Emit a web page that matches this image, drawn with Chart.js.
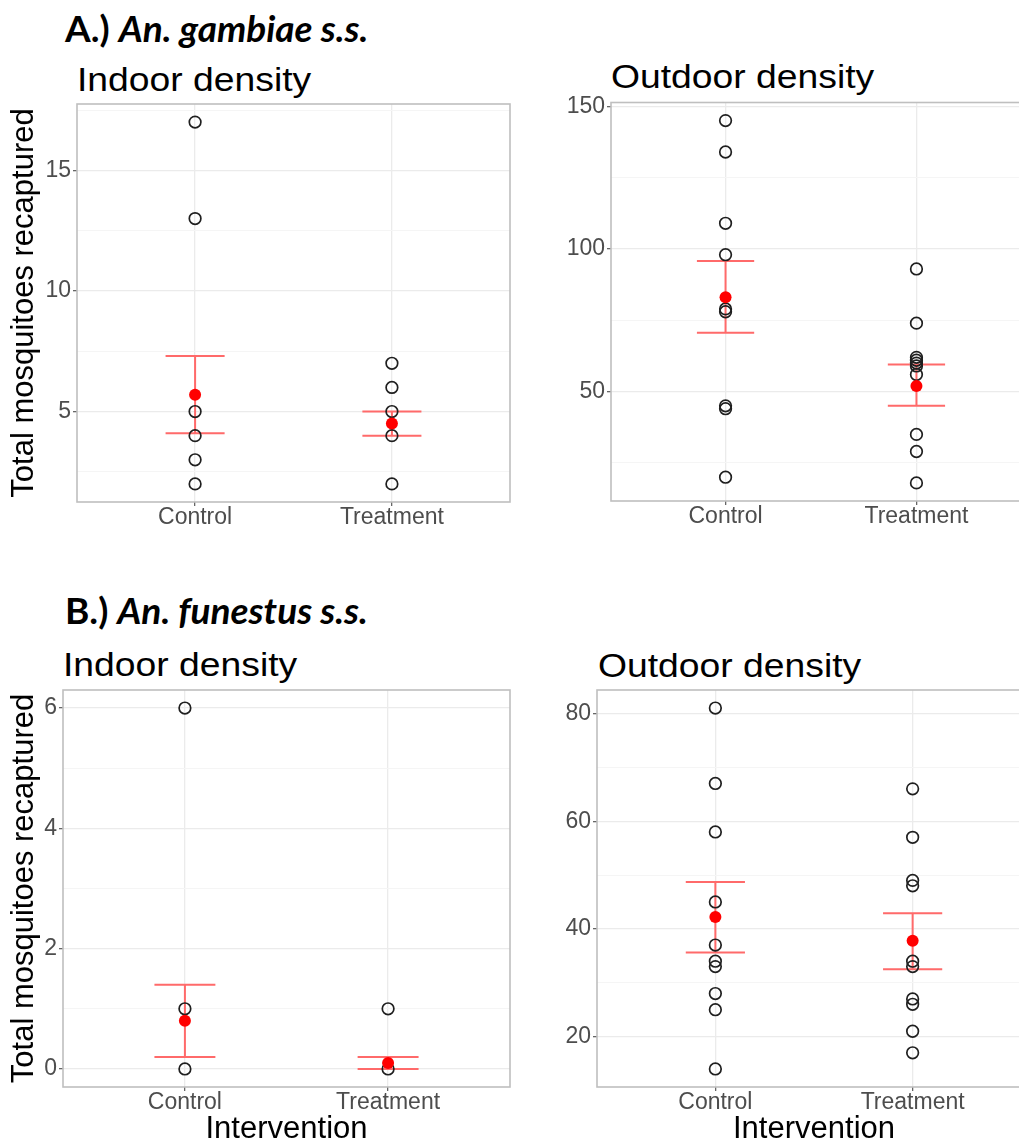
<!DOCTYPE html>
<html>
<head>
<meta charset="utf-8">
<script src="https://cdn.jsdelivr.net/npm/chart.js@4.4.1/dist/chart.umd.min.js"></script>
<style>
  html, body { margin: 0; padding: 0; background: #fff; overflow: hidden; }
  #page { position: relative; width: 1019px; height: 1140px; overflow: hidden; background: #fff; }
  canvas { position: absolute; }
  .title { position: absolute; white-space: nowrap; font-family: "Liberation Sans", Arial, sans-serif;
           font-size: 33px; line-height: 33px; color: #000; transform-origin: 0 0; transform: scaleX(1.13); }
  .species { position: absolute; white-space: nowrap; font-family: Lato, sans-serif; font-weight: bold;
             font-size: 37px; line-height: 37px; color: #000; }
</style>
</head>
<body>
<div id="page">
  <div class="species" style="left:65px; top:9px">A.) <i>An. gambiae s.s.</i></div>
  <div class="title" style="left:77px; top:63px">Indoor density</div>
  <div class="title" style="left:611px; top:60px">Outdoor density</div>
  <div class="species" style="left:65px; top:591px">B.) <i>An. funestus s.s.</i></div>
  <div class="title" style="left:63px; top:648px">Indoor density</div>
  <div class="title" style="left:598px; top:649px">Outdoor density</div>

  <canvas id="gambiaeIndoor" width="520" height="440" style="left:0px; top:95px"></canvas>
  <canvas id="gambiaeOutdoor" width="500" height="440" style="left:540px; top:95px"></canvas>
  <canvas id="funestusIndoor" width="520" height="470" style="left:0px; top:680px"></canvas>
  <canvas id="funestusOutdoor" width="500" height="470" style="left:540px; top:680px"></canvas>
</div>

<script>
const groups = ["Control", "Treatment"];

// A.) An. gambiae s.s. - indoor
const gambiaeIndoorControl = [17, 13, 5, 4, 3, 2];
const gambiaeIndoorTreatment = [7, 6, 5, 4, 2];
const gambiaeIndoorMean = [5.7, 4.5];
const gambiaeIndoorLower = [4.1, 4.0];
const gambiaeIndoorUpper = [7.3, 5.0];
const gambiaeIndoorTicks = [5, 10, 15];
const gambiaeIndoorMinor = [2.5, 7.5, 12.5, 17.5];

// A.) An. gambiae s.s. - outdoor
const gambiaeOutdoorControl = [145, 134, 109, 98, 79, 78, 45, 44, 20];
const gambiaeOutdoorTreatment = [93, 74, 62, 61, 60, 59, 56, 35, 29, 18];
const gambiaeOutdoorMean = [83.1, 52.0];
const gambiaeOutdoorLower = [70.6, 45.0];
const gambiaeOutdoorUpper = [95.8, 59.5];
const gambiaeOutdoorTicks = [50, 100, 150];
const gambiaeOutdoorMinor = [25, 75, 125];

// B.) An. funestus s.s. - indoor
const funestusIndoorControl = [6, 1, 0];
const funestusIndoorTreatment = [1, 0];
const funestusIndoorMean = [0.8, 0.1];
const funestusIndoorLower = [0.2, 0.0];
const funestusIndoorUpper = [1.4, 0.2];
const funestusIndoorTicks = [0, 2, 4, 6];
const funestusIndoorMinor = [1, 3, 5];

// B.) An. funestus s.s. - outdoor
const funestusOutdoorControl = [81, 67, 58, 45, 37, 34, 33, 28, 25, 14];
const funestusOutdoorTreatment = [66, 57, 49, 48, 34, 33, 27, 26, 21, 17];
const funestusOutdoorMean = [42.2, 37.8];
const funestusOutdoorLower = [35.6, 32.5];
const funestusOutdoorUpper = [48.7, 42.9];
const funestusOutdoorTicks = [20, 40, 60, 80];
const funestusOutdoorMinor = [30, 50, 70];

const capHalf = 0.15;
const tickFont = { family: "'Liberation Sans', Arial, sans-serif", size: 23 };
const titleFont = { family: "'Liberation Sans', Arial, sans-serif", size: 31 };

// caja del panel (estilo ggplot theme_bw)
const panelBorder = {
  id: "panelBorder",
  afterDatasetsDraw(chart) {
    const { ctx, chartArea: a } = chart;
    ctx.save();
    ctx.strokeStyle = "#bfbfbf";
    ctx.lineWidth = 1.6;
    ctx.strokeRect(a.left, a.top, a.right - a.left, a.bottom - a.top);
    ctx.restore();
  }
};

function buildPanel(canvasId, cfg) {
  const all = cfg.control.concat(cfg.treatment, cfg.lower, cfg.upper);
  const lo = Math.min(...all);
  const hi = Math.max(...all);
  const pad = (hi - lo) * 0.05;

  const points = [];
  cfg.control.forEach(v => points.push({ x: 1, y: v }));
  cfg.treatment.forEach(v => points.push({ x: 2, y: v }));

  const means = cfg.mean.map((v, i) => ({ x: i + 1, y: v }));

  const bars = [];
  groups.forEach((g, i) => {
    const x = i + 1;
    bars.push(
      { x: x - capHalf, y: cfg.upper[i] }, { x: x + capHalf, y: cfg.upper[i] }, { x: x, y: null },
      { x: x, y: cfg.upper[i] }, { x: x, y: cfg.lower[i] }, { x: x, y: null },
      { x: x - capHalf, y: cfg.lower[i] }, { x: x + capHalf, y: cfg.lower[i] }, { x: x, y: null }
    );
  });

  const yValues = cfg.ticks.concat(cfg.minor).sort((a, b) => a - b);

  return new Chart(document.getElementById(canvasId), {
    type: "scatter",
    data: {
      datasets: [
        { data: means, backgroundColor: "#ff0000", borderColor: "#ff0000", borderWidth: 0, pointRadius: 6, order: 0 },
        { data: points, backgroundColor: "rgba(0,0,0,0)", borderColor: "#1f1f1f", borderWidth: 1.7, pointRadius: 5.8, order: 1 },
        { data: bars, showLine: true, spanGaps: false, borderColor: "#ff6a6a", borderWidth: 2, pointRadius: 0, order: 2 }
      ]
    },
    options: {
      responsive: false,
      animation: false,
      events: [],
      layout: { padding: { top: cfg.padTop, right: cfg.padRight, left: 0, bottom: 0 } },
      plugins: { legend: { display: false }, tooltip: { enabled: false } },
      scales: {
        x: {
          type: "linear",
          min: 0.4,
          max: 2.6,
          afterBuildTicks: s => { s.ticks = [{ value: 1 }, { value: 2 }]; },
          afterFit: s => { s.height = cfg.xHeight; s.paddingLeft = 0; s.paddingRight = 0; },
          ticks: { callback: v => groups[v - 1], color: "#4d4d4d", font: tickFont, padding: -2, maxRotation: 0, autoSkip: false },
          grid: { color: "#ebebeb", lineWidth: 1.3, tickLength: 4, tickColor: "#666" },
          border: { display: false },
          title: { display: cfg.xTitle, text: "Intervention", color: "#000", font: titleFont, padding: { top: 0, bottom: 2 } }
        },
        y: {
          type: "linear",
          min: lo - pad,
          max: hi + pad,
          afterBuildTicks: s => { s.ticks = yValues.map(v => ({ value: v })); },
          afterFit: s => { s.width = cfg.yWidth; s.paddingTop = 0; s.paddingBottom = 0; },
          ticks: {
            callback: v => cfg.ticks.includes(v) ? String(v) : "",
            color: "#4d4d4d", font: tickFont, padding: 2, autoSkip: false
          },
          grid: {
            color: c => cfg.ticks.includes(c.tick.value) ? "#ebebeb" : "#f5f5f5",
            lineWidth: c => cfg.ticks.includes(c.tick.value) ? 1.3 : 1,
            tickLength: 4,
            tickColor: c => cfg.ticks.includes(c.tick.value) ? "#666" : "rgba(0,0,0,0)"
          },
          border: { display: false },
          title: { display: cfg.yTitle, text: "Total mosquitoes recaptured", color: "#000", font: titleFont, padding: { top: 6, bottom: 0 } }
        }
      }
    },
    plugins: [panelBorder]
  });
}

buildPanel("gambiaeIndoor", {
  control: gambiaeIndoorControl, treatment: gambiaeIndoorTreatment,
  mean: gambiaeIndoorMean, lower: gambiaeIndoorLower, upper: gambiaeIndoorUpper,
  ticks: gambiaeIndoorTicks, minor: gambiaeIndoorMinor,
  padTop: 9, padRight: 10, yWidth: 77, xHeight: 33, yTitle: true, xTitle: false
});

buildPanel("gambiaeOutdoor", {
  control: gambiaeOutdoorControl, treatment: gambiaeOutdoorTreatment,
  mean: gambiaeOutdoorMean, lower: gambiaeOutdoorLower, upper: gambiaeOutdoorUpper,
  ticks: gambiaeOutdoorTicks, minor: gambiaeOutdoorMinor,
  padTop: 7, padRight: 9, yWidth: 71, xHeight: 34, yTitle: false, xTitle: false
});

buildPanel("funestusIndoor", {
  control: funestusIndoorControl, treatment: funestusIndoorTreatment,
  mean: funestusIndoorMean, lower: funestusIndoorLower, upper: funestusIndoorUpper,
  ticks: funestusIndoorTicks, minor: funestusIndoorMinor,
  padTop: 10, padRight: 10, yWidth: 63, xHeight: 63, yTitle: true, xTitle: true
});

buildPanel("funestusOutdoor", {
  control: funestusOutdoorControl, treatment: funestusOutdoorTreatment,
  mean: funestusOutdoorMean, lower: funestusOutdoorLower, upper: funestusOutdoorUpper,
  ticks: funestusOutdoorTicks, minor: funestusOutdoorMinor,
  padTop: 10, padRight: 9, yWidth: 57, xHeight: 63, yTitle: false, xTitle: true
});
</script>
</body>
</html>
